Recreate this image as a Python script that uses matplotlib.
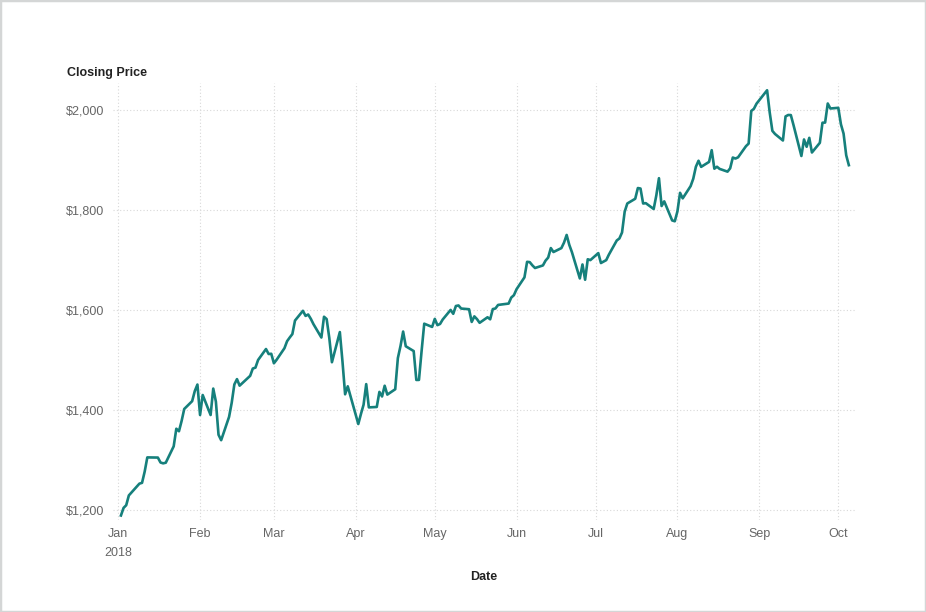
import matplotlib
matplotlib.use("Agg")
import matplotlib.pyplot as plt
import matplotlib.dates as mdates
from matplotlib.patches import Rectangle
import numpy as np
import datetime as dt

plt.rcParams['font.family'] = ['Liberation Sans', 'DejaVu Sans']

# Trading days per month (2018) and closing prices
jan_days = [2,3,4,5,8,9,10,11,12,16,17,18,19,22,23,24,25,26,29,30,31]
jan_vals = [1189.01,1204.20,1209.59,1229.14,1246.87,1252.70,1254.33,1276.68,1305.20,1304.86,1295.00,1293.32,1294.58,1327.31,1362.54,1357.51,1377.95,1402.05,1417.68,1437.82,1450.89]
feb_days = [1,2,5,6,7,8,9,12,13,14,15,16,20,21,22,23,26,27,28]
feb_vals = [1390.00,1429.95,1390.00,1442.84,1416.78,1350.50,1339.60,1386.23,1414.51,1451.05,1461.76,1448.69,1468.35,1482.92,1484.76,1500.00,1521.95,1511.98,1512.45]
mar_days = [1,2,5,6,7,8,9,12,13,14,15,16,19,20,21,22,23,26,27,28,29]
mar_vals = [1493.45,1500.25,1523.61,1537.64,1545.00,1551.86,1578.89,1598.39,1588.18,1591.00,1582.32,1571.68,1544.93,1586.51,1581.86,1544.10,1495.56,1555.86,1497.05,1431.42,1447.34]
apr_days = [2,3,4,5,6,9,10,11,12,13,16,17,18,19,20,23,24,25,26,27,30]
apr_vals = [1371.99,1392.05,1410.57,1451.75,1405.23,1406.08,1436.22,1427.05,1448.50,1430.79,1441.50,1503.83,1527.84,1556.91,1527.49,1517.86,1460.09,1460.17,1517.96,1572.62,1566.13]
may_days = [1,2,3,4,7,8,9,10,11,14,15,16,17,18,21,22,23,24,25,29,30,31]
may_vals = [1582.26,1569.68,1572.08,1580.95,1600.14,1592.39,1608.00,1609.08,1602.91,1601.54,1576.12,1587.28,1581.76,1574.37,1585.46,1581.40,1601.86,1603.07,1610.15,1612.87,1624.89,1629.62]
jun_days = [1,4,5,6,7,8,11,12,13,14,15,18,19,20,21,22,25,26,27,28,29]
jun_vals = [1641.54,1665.27,1696.35,1695.75,1689.30,1683.99,1689.12,1698.75,1704.86,1723.86,1715.97,1723.79,1734.78,1750.08,1730.22,1715.67,1663.15,1691.09,1660.51,1701.45,1699.80]
jul_days = [2,3,5,6,9,10,11,12,13,16,17,18,19,20,23,24,25,26,27,30,31]
jul_vals = [1713.78,1693.96,1699.73,1710.63,1739.02,1743.07,1755.00,1796.62,1813.03,1822.49,1843.93,1842.92,1812.97,1813.70,1802.00,1829.24,1863.61,1808.00,1817.27,1779.22,1777.44]
aug_days = [1,2,3,6,7,8,9,10,13,14,15,16,17,20,21,22,23,24,27,28,29,30,31]
aug_vals = [1797.17,1834.33,1823.29,1847.75,1862.48,1886.52,1898.52,1886.30,1896.20,1919.65,1882.62,1886.52,1882.22,1876.71,1883.42,1904.90,1902.90,1905.39,1927.68,1932.82,1998.10,2002.38,2012.71]
sep_days = [4,5,6,7,10,11,12,13,14,17,18,19,20,21,24,25,26,27,28]
sep_vals = [2039.51,1994.82,1958.31,1952.07,1939.01,1987.15,1990.00,1989.87,1970.19,1908.03,1941.05,1926.42,1944.30,1915.01,1934.36,1974.55,1974.85,2012.98,2003.00]
oct_days = [1,2,3,4,5]
oct_vals = [2004.36,1971.31,1952.76,1909.42,1889.65]

month_days = [jan_days, feb_days, mar_days, apr_days, may_days, jun_days, jul_days, aug_days, sep_days, oct_days]
month_vals = [jan_vals, feb_vals, mar_vals, apr_vals, may_vals, jun_vals, jul_vals, aug_vals, sep_vals, oct_vals]

y_ticks = [1200, 1400, 1600, 1800, 2000]
month_labels = ["Jan\n2018", "Feb", "Mar", "Apr", "May", "Jun", "Jul", "Aug", "Sep", "Oct"]

dates = []
values = []
for m, (ds, vs) in enumerate(zip(month_days, month_vals), start=1):
    for d, v in zip(ds, vs):
        dates.append(dt.datetime(2018, m, d))
        values.append(v)

W, H = 926, 612
fig = plt.figure(figsize=(W/100, H/100), dpi=100)
fig.patch.set_facecolor('white')

L, R, T, B = 113, 855, 83, 520
ax = fig.add_axes([L/W, 1-B/H, (R-L)/W, (B-T)/H])

ax.plot(dates, values, color='#16807c', lw=1.9, solid_joinstyle='round', zorder=3)

jan1 = mdates.date2num(dt.datetime(2018, 1, 1))
ppd = (838.3-118.3)/273.0
ax.set_xlim(jan1 - (118.3-L)/ppd, jan1 + (R-118.3)/ppd)
# y: 2000 at 110px, 1200 at 510px
ppv = (510-110)/800.0
ax.set_ylim(1200 - (B-510)/ppv, 2000 + (110-T)/ppv)

month_ticks = [dt.datetime(2018, m, 1) for m in range(1, 11)]
ax.set_xticks(month_ticks)
ax.set_xticklabels(month_labels, linespacing=1.7)
ax.set_yticks(y_ticks)
ax.set_yticklabels(["${:,}".format(v) for v in y_ticks])

for s in ax.spines.values():
    s.set_visible(False)
ax.tick_params(axis='both', length=0, labelsize=9, labelcolor='#666666')
ax.tick_params(axis='y', pad=6.5)
ax.tick_params(axis='x', pad=6)
ax.grid(True, color='#d8d8d8', lw=0.8, linestyle=(0, (1, 2)), zorder=0)
ax.set_axisbelow(True)

fig.text(67/W, 1-76/H, "Closing Price", fontsize=9, fontweight='bold', color='#222222', ha='left', va='baseline')
fig.text(484/W, 1-580/H, "Date", fontsize=9, fontweight='bold', color='#222222', ha='center', va='baseline')

fig.patches.append(Rectangle((0, 0), 1, 1, transform=fig.transFigure, fill=False,
                             edgecolor='#d4d6d6', lw=2.5, zorder=10))

fig.savefig("out.png", dpi=100, facecolor='white')
